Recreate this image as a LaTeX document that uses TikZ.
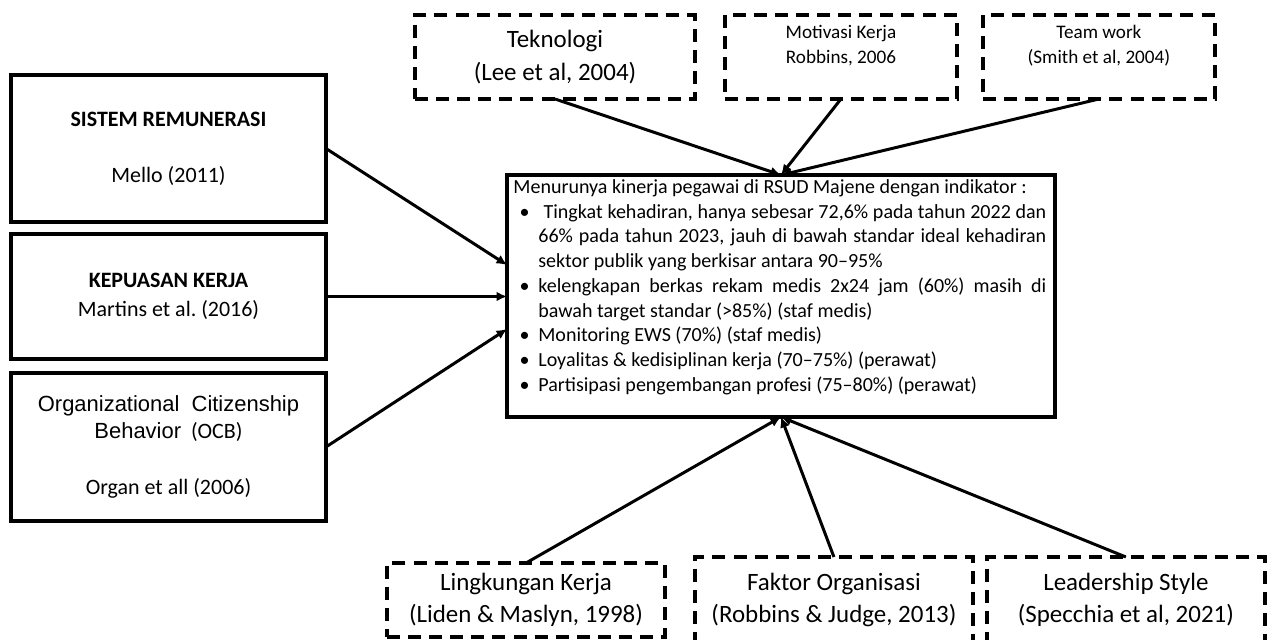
\documentclass[tikz,border=0pt]{standalone}
\usepackage{fontspec}
\setmainfont{Carlito}
\newfontfamily\arialfont{Liberation Sans}
\usepackage{enumitem}
\usetikzlibrary{arrows.meta, positioning, calc}

\begin{document}
\begin{tikzpicture}[x=0.02cm, y=-0.02cm,
    factor/.style={rectangle, draw, line width=2.2pt, outer sep=0pt, minimum width=6.3cm, align=center, font=\fontsize{12.5}{15}\selectfont},
    extra/.style={rectangle, draw, dash pattern=on 7.4pt off 4.6pt, line width=2pt, outer sep=0pt, align=center, font=\fontsize{14.2}{18.6}\selectfont},
    small/.style={extra, minimum width=4.64cm, minimum height=1.68cm, font=\fontsize{10.9}{14.4}\selectfont},
    result/.style={rectangle, draw, line width=1.9pt, outer sep=0pt, minimum width=10.96cm, minimum height=4.84cm},
    line/.style={draw, line width=1.7pt, -{Latex[length=6pt, width=5.6pt]}}
]
    \useasboundingbox (0,0) rectangle (1271,639);

    % Independent variables
    \node [factor, minimum height=2.94cm] (remun) at (168.5,148.5) {\textbf{SISTEM REMUNERASI}\\[17pt] Mello (2011)};
    \node [factor, minimum height=2.5cm, below=0.24cm of remun] (puas) {\textbf{KEPUASAN KERJA}\\[1.5pt] Martins et al.\ (2016)};
    \node [factor, minimum height=2.96cm, below=0.28cm of puas] (ocb) {{\arialfont Organizational\ \ Citizenship}\\{\arialfont Behavior}\ \ (OCB)\\[17pt] Organ et all (2006)};

    % Other factors (top)
    \node [extra, minimum width=5.6cm, minimum height=1.68cm] (tekno) at (555,57) {Teknologi\\(Lee et al, 2004)};
    \node [small, right=0.6cm of tekno] (motiv) {Motivasi Kerja\\Robbins, 2006\\\mbox{}};
    \node [small, right=0.52cm of motiv] (team) {Team work\\(Smith et al, 2004)\\\mbox{}};

    % Other factors (bottom)
    \node [extra, minimum width=5.56cm, minimum height=1.48cm] (lingk) at (526,600) {Lingkungan Kerja\\(Liden \& Maslyn, 1998)};
    \node [extra, minimum width=5.56cm, minimum height=1.72cm, right=0.6cm of lingk] (organ) {Faktor Organisasi\\(Robbins \& Judge, 2013)};
    \node [extra, minimum width=5.56cm, minimum height=1.72cm, right=0.28cm of organ] (lead) {Leadership Style\\(Specchia et al, 2021)};

    % Dependent variable
    \node [result] (kinerja) at (781,296) {};
    \node [anchor=north west, inner sep=0pt, text width=10.66cm, align=justify, font=\fontsize{11.4}{14.1}\selectfont] (indikator) at ($(kinerja.north west)+(6,4)$) {\hyphenpenalty=10000 Menurunya kinerja pegawai di RSUD Majene dengan indikator :
      \begin{itemize}[leftmargin=14.2pt, labelsep=5pt, itemsep=0pt, parsep=0pt, topsep=0pt, partopsep=0pt, label=\textbullet]
        \item \hspace{3pt}Tingkat kehadiran, hanya sebesar 72,6\% pada tahun 2022 dan\linebreak 66\% pada tahun 2023, jauh di bawah standar ideal kehadiran\linebreak sektor publik yang berkisar antara 90–95\%
        \item kelengkapan berkas rekam medis 2x24 jam (60\%) masih di\linebreak bawah target standar (>85\%) (staf medis)
        \item Monitoring EWS (70\%) (staf medis)
        \item Loyalitas \& kedisiplinan kerja (70–75\%) (perawat)
        \item Partisipasi pengembangan profesi (75–80\%) (perawat)
      \end{itemize}};

    % Connections
    \path [line] (remun.east) -- ($(kinerja.west)+(0,-31)$);
    \path [line] (puas.east) -- (puas.east -| kinerja.west);
    \path [line] (ocb.east) -- ($(kinerja.west)+(0,33)$);
    \path [line] (tekno.south) -- (kinerja.north);
    \path [line] (motiv.south) -- (kinerja.north);
    \path [line] (team.south) -- (kinerja.north);
    \path [line] (lingk.north) -- (kinerja.south);
    \path [line] (organ.north) -- (kinerja.south);
    \path [line] (lead.north) -- (kinerja.south);
\end{tikzpicture}
\end{document}
